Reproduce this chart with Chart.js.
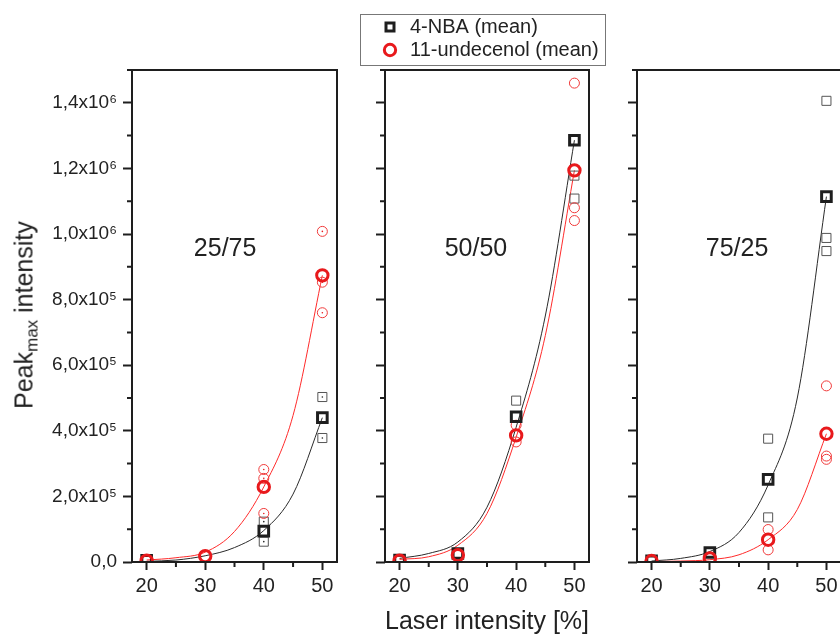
<!DOCTYPE html>
<html>
<head>
<meta charset="utf-8">
<script src="https://cdn.jsdelivr.net/npm/chart.js@4.4.0/dist/chart.umd.min.js"></script>
<style>
html, body { margin: 0; padding: 0; width: 840px; height: 635px; overflow: hidden; background: #fff; }
canvas { position: absolute; top: 0; }
#ytitle {
    position: absolute; left: 24px; top: 315px;
    transform: translate(-50%, -50%) rotate(-90deg);
    font: 25px "Liberation Sans", Arial, sans-serif; color: #222; white-space: nowrap;
}
#ytitle sub { font-size: 17px; vertical-align: -5px; line-height: 0; }
</style>
</head>
<body>
<canvas id="p1" width="350" height="635" style="left:0px"></canvas>
<canvas id="p2" width="265" height="635" style="left:355px"></canvas>
<canvas id="p3" width="226" height="635" style="left:625px"></canvas>
<div id="ytitle">Peak<sub>max</sub> intensity</div>
<script>
// laser intensity [%] and tick positions
const laser = [20, 30, 40, 50];
const fitX = [20, 25, 30, 35, 40, 45, 50];
const xMajor = [20, 30, 40, 50];
const xMinor = [25, 35, 45];
const yMajor = [0, 2e5, 4e5, 6e5, 8e5, 1e6, 1.2e6, 1.4e6];
const yMinor = [1e5, 3e5, 5e5, 7e5, 9e5, 1.1e6, 1.3e6, 1.5e6];

// 25/75
const nbaMean2575 = [5e3, null, 9.4e4, 4.40e5];
const undMean2575 = [4e3, 1.8e4, 2.29e5, 8.74e5];
const nbaReps2575 = [[], [], [1.23e5, 6.2e4], [5.03e5, 3.78e5]];
const undReps2575 = [[], [], [2.82e5, 2.55e5, 1.48e5], [1.008e6, 8.53e5, 7.6e5]];
const nbaFit2575 = [2e3, 6e3, 1.9e4, 4.4e4, 9.6e4, 2.07e5, 4.4e5];
const undFit2575 = [6e3, 1.3e4, 3.0e4, 9.3e4, 2.29e5, 4.47e5, 8.74e5];

// 50/50
const nbaMean5050 = [6e3, 2.6e4, 4.43e5, 1.286e6];
const undMean5050 = [4e3, 2.1e4, 3.86e5, 1.194e6];
const nbaReps5050 = [[], [], [4.92e5], [1.178e6, 1.108e6]];
const undReps5050 = [[], [], [4.17e5, 3.66e5], [1.46e6, 1.08e6, 1.041e6]];
const nbaFit5050 = [1.1e4, 2.6e4, 6.1e4, 1.67e5, 4.11e5, 7.5e5, 1.286e6];
const undFit5050 = [8e3, 1.6e4, 5.1e4, 1.48e5, 3.81e5, 6.9e5, 1.194e6];

// 75/25
const nbaMean7525 = [4e3, 2.9e4, 2.52e5, 1.114e6];
const undMean7525 = [3e3, 1.1e4, 6.8e4, 3.91e5];
const nbaReps7525 = [[], [], [3.76e5, 1.36e5], [1.406e6, 9.88e5, 9.48e5]];
const undReps7525 = [[], [], [9.9e4, 3.7e4], [5.37e5, 3.23e5, 3.13e5]];
const nbaFit7525 = [3e3, 1.1e4, 3.2e4, 9.0e4, 2.35e5, 5.0e5, 1.114e6];
const undFit7525 = [1e3, 3e3, 7e3, 2.2e4, 6.8e4, 1.6e5, 3.91e5];

const family = '"Liberation Sans", Arial, sans-serif';
Chart.defaults.font.family = family;

const black = '#1e1e1e', grey = '#555', red = '#e8191c', redThin = '#f03a3a';
const sup = { 5: '\u2075', 6: '\u2076' };

function sci(v) {
    if (v === 0) return '0,0';
    const e = Math.floor(Math.log10(v) + 1e-9);
    return (v / Math.pow(10, e)).toFixed(1).replace('.', ',') + 'x10' + sup[e];
}
function points(xs, ys) { return ys.map((v, i) => ({ x: xs[i], y: v })); }
function repPoints(reps) { return reps.flatMap((arr, i) => arr.map(v => ({ x: laser[i], y: v }))); }

const panelDecor = {
    id: 'panelDecor',
    afterDraw(chart, args, opts) {
        const { ctx, chartArea: a, scales: { x, y } } = chart;
        ctx.save();
        ctx.strokeStyle = black;
        ctx.lineWidth = 2;
        ctx.strokeRect(a.left, a.top, a.right - a.left, a.bottom - a.top);
        ctx.beginPath();
        for (const v of xMinor) { const px = x.getPixelForValue(v); ctx.moveTo(px, a.bottom); ctx.lineTo(px, a.bottom + 5); }
        for (const v of yMinor) { const py = y.getPixelForValue(v); ctx.moveTo(a.left, py); ctx.lineTo(a.left - 5, py); }
        ctx.stroke();
        ctx.font = '25px ' + family;
        ctx.fillStyle = '#222';
        ctx.textAlign = 'center';
        ctx.textBaseline = 'middle';
        ctx.fillText(opts.text, x.getPixelForValue(opts.x), y.getPixelForValue(opts.y));

        // thin frame round the legend
        const lg = chart.legend;
        if (lg && lg.options.display && lg.legendHitBoxes.length) {
            const hb = lg.legendHitBoxes;
            const l = Math.min(...hb.map(b => b.left)) - 20;
            const t = Math.min(...hb.map(b => b.top)) - 3;
            const r = Math.max(...hb.map(b => b.left + b.width)) + 6;
            const b = Math.max(...hb.map(b => b.top + b.height)) + 5;
            ctx.strokeStyle = '#777';
            ctx.lineWidth = 1;
            ctx.strokeRect(Math.round(l) + 0.5, Math.round(t) + 0.5, Math.round(r - l), Math.round(b - t));
        }
        ctx.restore();
    }
};

function makePanel(id, p) {
    const datasets = [
        { label: '11-undecenol (mean)', data: points(laser, p.undMean), pointStyle: 'circle', pointRadius: 5.7,
          pointBorderWidth: 3, pointBorderColor: red, pointBackgroundColor: 'rgba(0,0,0,0)' },
        { label: '4-NBA (mean)', data: points(laser, p.nbaMean), pointStyle: 'rect', pointRadius: 6.8,
          pointBorderWidth: 3, pointBorderColor: black, pointBackgroundColor: 'rgba(0,0,0,0)' },
        { label: '11-undecenol', data: repPoints(p.undReps), pointStyle: 'circle', pointRadius: 5,
          pointBorderWidth: 1, pointBorderColor: redThin, pointBackgroundColor: 'rgba(0,0,0,0)' },
        { label: '4-NBA', data: repPoints(p.nbaReps), pointStyle: 'rect', pointRadius: 6.4,
          pointBorderWidth: 1, pointBorderColor: grey, pointBackgroundColor: 'rgba(0,0,0,0)' },
        { label: '11-undecenol fit', data: points(fitX, p.undFit), showLine: true, pointRadius: 0,
          borderColor: '#ff2a2a', borderWidth: 1, cubicInterpolationMode: 'monotone' },
        { label: '4-NBA fit', data: points(fitX, p.nbaFit), showLine: true, pointRadius: 0,
          borderColor: '#2a2a2a', borderWidth: 1, cubicInterpolationMode: 'monotone' }
    ];
    if (p.dots) {
        datasets.push({ label: 'dots', data: repPoints(p.undReps), pointRadius: 0.8, pointBorderWidth: 0, pointBackgroundColor: red });
        datasets.push({ label: 'dots', data: repPoints(p.nbaReps), pointRadius: 0.8, pointBorderWidth: 0, pointBackgroundColor: black });
    }

    const scales = {
        x: {
            type: 'linear', min: 17.5, max: 52.5,
            afterBuildTicks: s => { s.ticks = xMajor.map(v => ({ value: v })); },
            afterFit: s => { s.height = 73; },
            grid: { drawOnChartArea: false, drawTicks: true, tickLength: 8, tickWidth: 2, tickColor: black },
            border: { display: false },
            ticks: { font: { size: 20 }, color: '#222', padding: 4, maxRotation: 0 },
            title: p.xTitle
                ? { display: true, text: 'Laser intensity [%]', color: '#222', font: { size: 25, lineHeight: 1 }, padding: { top: 0, bottom: 0 } }
                : { display: false }
        },
        y: {
            type: 'linear', min: 0, max: 1.5e6,
            afterBuildTicks: s => { s.ticks = yMajor.map(v => ({ value: v })); },
            afterFit: s => { s.width = p.yWidth; },
            grid: { drawOnChartArea: false, drawTicks: true, tickLength: 9, tickWidth: 2, tickColor: black },
            border: { display: false },
            ticks: { display: p.yLabels, callback: v => sci(v), font: { size: 19 }, color: '#222', padding: 6 }
        }
    };
    if (p.rightAxis) {
        scales.y2 = {
            position: 'right', display: true,
            grid: { display: false }, border: { display: false }, ticks: { display: false },
            afterFit: s => { s.width = p.rightAxis; }
        };
    }

    new Chart(document.getElementById(id), {
        type: 'scatter',
        data: { datasets: datasets },
        options: {
            responsive: false,
            animation: false,
            layout: { padding: p.padding },
            plugins: {
                legend: p.legend ? {
                    display: true, position: 'top', align: 'start',
                    labels: {
                        usePointStyle: true, boxWidth: 20, boxHeight: 8, padding: 3,
                        font: { size: 20 }, color: '#222',
                        filter: item => item.datasetIndex < 2,
                        sort: (a, b) => b.datasetIndex - a.datasetIndex
                    }
                } : { display: false },
                tooltip: { enabled: false },
                panelDecor: { text: p.name, x: p.labelX, y: 9.55e5 }
            },
            scales: scales
        },
        plugins: [panelDecor]
    });
}

makePanel('p1', {
    name: '25/75', labelX: 33.4, nbaMean: nbaMean2575, undMean: undMean2575, nbaReps: nbaReps2575, undReps: undReps2575,
    nbaFit: nbaFit2575, undFit: undFit2575, dots: true,
    padding: { top: 70, left: 0, right: 13, bottom: 0 }, yWidth: 132, yLabels: true
});
makePanel('p2', {
    name: '50/50', labelX: 33.1, nbaMean: nbaMean5050, undMean: undMean5050, nbaReps: nbaReps5050, undReps: undReps5050,
    nbaFit: nbaFit5050, undFit: undFit5050, legend: true, xTitle: true,
    padding: { top: 14, left: 22, right: 0, bottom: 0 }, yWidth: 8, yLabels: false, rightAxis: 31
});
makePanel('p3', {
    name: '75/25', labelX: 34.66, nbaMean: nbaMean7525, undMean: undMean7525, nbaReps: nbaReps7525, undReps: undReps7525,
    nbaFit: nbaFit7525, undFit: undFit7525,
    padding: { top: 70, left: 0, right: 10, bottom: 0 }, yWidth: 12, yLabels: false
});
</script>
</body>
</html>
